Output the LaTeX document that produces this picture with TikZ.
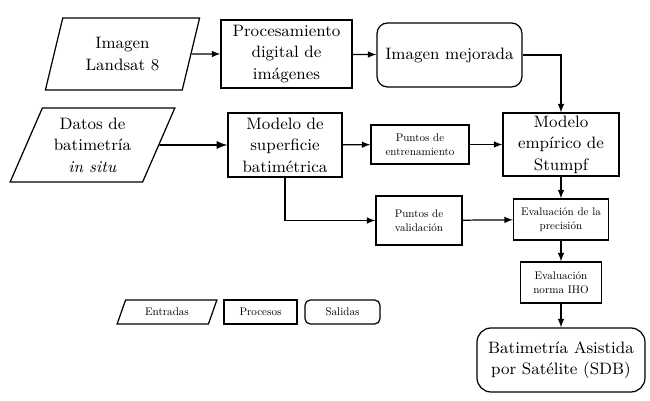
\documentclass[tikz,border=0pt]{standalone}
\usepackage{fontspec}
\newfontfamily\letrachica{lmroman10-regular.otf}
\usetikzlibrary{shapes.geometric, positioning}

\begin{document}
\begin{tikzpicture}[x=0.02cm, y=-0.02cm, line width=0.7pt,
    grande/.style={font=\fontsize{9.4}{12.3}\selectfont},
    chica/.style={font=\letrachica\fontsize{6.3}{8}\selectfont},
    entrada/.style={draw, trapezium, trapezium stretches=true, align=center, inner sep=1pt},
    proceso/.style={draw, rectangle, align=center, inner sep=1pt},
    salida/.style={draw, rectangle, rounded corners=#1, align=center, inner sep=1pt},
    flecha/.style={-latex}]
    \useasboundingbox (0, 0) rectangle (650, 401);

    % fila de arriba
    \node[entrada, grande, trapezium left angle=73, trapezium right angle=107,
        minimum width=3.1cm, minimum height=1.44cm] (landsat) at (122.5, 54) {Imagen\\Landsat 8};
    \node[proceso, grande, minimum width=2.62cm, minimum height=1.36cm] (procesamiento) at (286.5, 54) {Procesamiento\\digital de\\imágenes};
    \node[salida=6pt, grande, minimum width=2.9cm, minimum height=1.28cm] (mejorada) at (449.5, 55) {Imagen mejorada};

    % fila del medio
    \node[entrada, grande, trapezium left angle=66, trapezium right angle=114,
        minimum width=3.3cm, minimum height=1.48cm] (datos) at (92.5, 145) {Datos de\\batimetría\\\textit{in situ}};
    \node[proceso, grande, minimum width=2.28cm, minimum height=1.28cm] (superficie) at (285, 145) {Modelo de\\superficie\\batimétrica};
    \node[proceso, chica, minimum width=1.96cm, minimum height=0.78cm] (entrenamiento) at (420, 144.5) {Puntos de\\entrenamiento};
    \node[proceso, grande, minimum width=2.32cm, minimum height=1.26cm] (stumpf) at (561, 144.5) {Modelo\\empírico de\\Stumpf};

    % evaluacion
    \node[proceso, chica, minimum width=1.72cm, minimum height=0.98cm] (validacion) at (419, 220.5) {Puntos de\\validación};
    \node[proceso, chica, minimum width=1.9cm, minimum height=0.82cm] (precision) at (561, 219.5) {Evaluación de la\\precisión};
    \node[proceso, chica, minimum width=1.62cm, minimum height=0.82cm] (iho) at (561, 282.5) {Evaluación\\norma IHO};
    \node[salida=8pt, grande, minimum width=3.36cm, minimum height=1.28cm] (sdb) at (561, 360) {Batimetría Asistida\\por Satélite (SDB)};

    % leyenda
    \node[entrada, chica, trapezium left angle=67, trapezium right angle=113,
        minimum width=2cm, minimum height=0.48cm] (entradas) at (167, 312) {Entradas};
    \node[proceso, chica, minimum width=1.46cm, minimum height=0.48cm] (procesos) at (260.5, 312) {Procesos};
    \node[salida=3pt, chica, minimum width=1.5cm, minimum height=0.48cm] (salidas) at (342.5, 312) {Salidas};

    % conexiones
    \draw[flecha] (landsat) -- (procesamiento);
    \draw[flecha] (procesamiento) -- (mejorada);
    \draw[flecha] (mejorada.east) -| (stumpf.north);
    \draw[flecha, line width=1.1pt] (datos) -- (superficie);
    \draw[flecha] (superficie) -- (entrenamiento);
    \draw[flecha] (entrenamiento) -- (stumpf);
    \draw[flecha] (superficie.south) |- (validacion.west);
    \draw[flecha] (validacion) -- (precision);
    \draw[flecha] (stumpf) -- (precision);
    \draw[flecha] (precision) -- (iho);
    \draw[flecha] (iho) -- (sdb);
\end{tikzpicture}
\end{document}
